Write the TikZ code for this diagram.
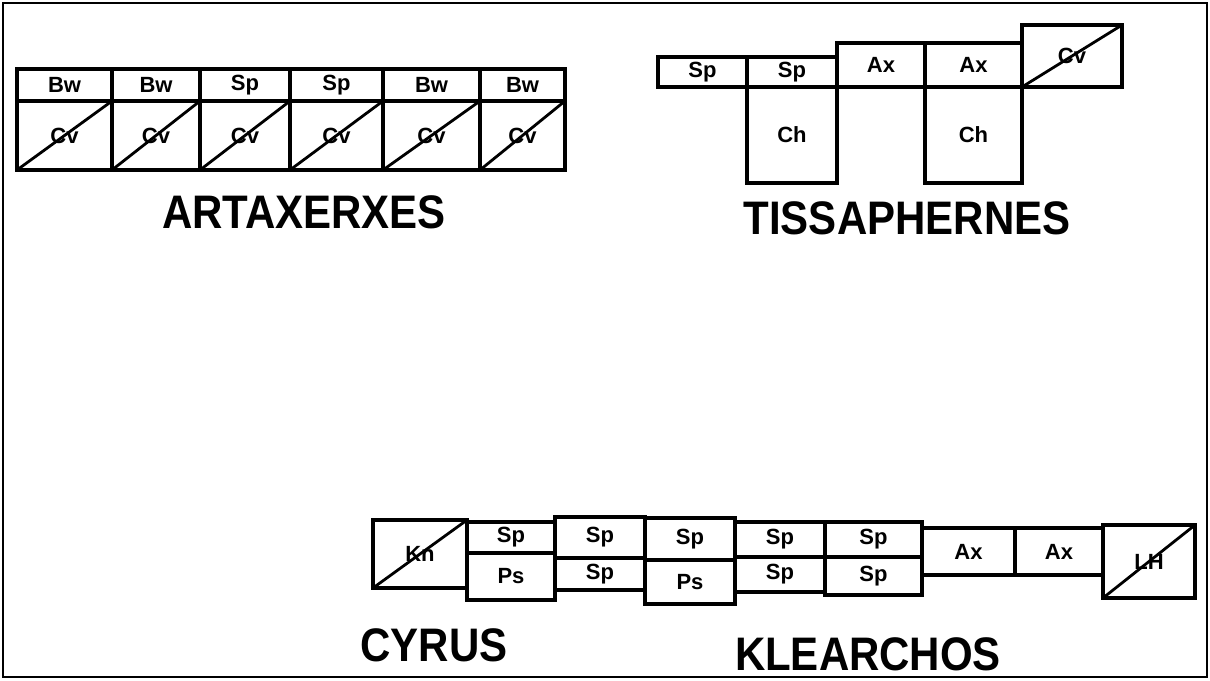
\documentclass[tikz,border=0pt]{standalone}
\usepackage{fontspec}
\usepackage{graphicx}
\setmainfont{Liberation Sans}
\tikzset{
  cell/.style={draw=black, line width=3.2pt, rectangle, inner sep=0pt, outer sep=0pt,
    anchor=north west, font=\fontsize{22}{22}\selectfont\bfseries, text=black},
  diag/.style={draw=black, line width=2.8pt},
  army/.style={font=\fontsize{42}{42}\selectfont\bfseries, text=black, inner sep=0pt},
  frame/.style={draw=black, line width=2.6pt}
}
\newcommand{\tallcaps}[1]{\scalebox{1}[1.12]{#1}}
\begin{document}
\begin{tikzpicture}[x=1pt,y=-1pt]
\useasboundingbox (0,0) rectangle (1210,680);
\fill[white] (0,0) rectangle (1210,680);
\coordinate (fnw) at (3,3);
\coordinate (fse) at (1207,677);
\draw[frame] (fnw) rectangle (fse);

% ---------------- ARTAXERXES ----------------
\node[cell, minimum width=95pt, minimum height=32pt] (a1h) at (17,69) {Bw};
\node[cell, minimum width=88pt, minimum height=32pt] (a2h) at (112,69) {Bw};
\node[cell, minimum width=90pt, minimum height=32pt] (a3h) at (200,69) {Sp};
\node[cell, minimum width=93pt, minimum height=32pt] (a4h) at (290,69) {Sp};
\node[cell, minimum width=97pt, minimum height=32pt] (a5h) at (383,69) {Bw};
\node[cell, minimum width=85pt, minimum height=32pt] (a6h) at (480,69) {Bw};
\node[cell, minimum width=95pt, minimum height=69pt] (a1c) at (17,101) {Cv};
\node[cell, minimum width=88pt, minimum height=69pt] (a2c) at (112,101) {Cv};
\node[cell, minimum width=90pt, minimum height=69pt] (a3c) at (200,101) {Cv};
\node[cell, minimum width=93pt, minimum height=69pt] (a4c) at (290,101) {Cv};
\node[cell, minimum width=97pt, minimum height=69pt] (a5c) at (383,101) {Cv};
\node[cell, minimum width=85pt, minimum height=69pt] (a6c) at (480,101) {Cv};
\foreach \c in {a1c,a2c,a3c,a4c,a5c,a6c}
  \draw[diag] (\c.south west) -- (\c.north east);
\node[army] (artax) at (304,212) {\tallcaps{ARTAXERXES}};

% ---------------- TISSAPHERNES ----------------
\node[cell, minimum width=89pt, minimum height=30pt] (t1) at (658,57) {Sp};
\node[cell, minimum width=90pt, minimum height=30pt] (t2) at (747,57) {Sp};
\node[cell, minimum width=90pt, minimum height=96pt] (t2c) at (747,87) {Ch};
\node[cell, minimum width=88pt, minimum height=44pt] (t3) at (837,43) {Ax};
\node[cell, minimum width=97pt, minimum height=44pt] (t4) at (925,43) {Ax};
\node[cell, minimum width=97pt, minimum height=96pt] (t4c) at (925,87) {Ch};
\node[cell, minimum width=100pt, minimum height=62pt] (t5) at (1022,25) {Cv};
\draw[diag] (t5.south west) -- (t5.north east);
\node[army] (tiss) at (907,218) {\tallcaps{TISSAPHERNES}};

% ---------------- CYRUS / KLEARCHOS ----------------
\node[cell, minimum width=94pt, minimum height=68pt] (k0) at (373,520) {Kn};
\draw[diag] (k0.south west) -- (k0.north east);
\node[cell, minimum width=88pt, minimum height=31pt] (c1a) at (467,522) {Sp};
\node[cell, minimum width=88pt, minimum height=47pt] (c1b) at (467,553) {Ps};
\node[cell, minimum width=90pt, minimum height=41pt] (c2a) at (555,517) {Sp};
\node[cell, minimum width=90pt, minimum height=32pt] (c2b) at (555,558) {Sp};
\node[cell, minimum width=90pt, minimum height=42pt] (c3a) at (645,518) {Sp};
\node[cell, minimum width=90pt, minimum height=44pt] (c3b) at (645,560) {Ps};
\node[cell, minimum width=90pt, minimum height=35pt] (c4a) at (735,522) {Sp};
\node[cell, minimum width=90pt, minimum height=35pt] (c4b) at (735,557) {Sp};
\node[cell, minimum width=97pt, minimum height=35pt] (c5a) at (825,522) {Sp};
\node[cell, minimum width=97pt, minimum height=38pt] (c5b) at (825,557) {Sp};
\node[cell, minimum width=93pt, minimum height=47pt] (c6) at (922,528) {Ax};
\node[cell, minimum width=88pt, minimum height=47pt] (c7) at (1015,528) {Ax};
\node[cell, minimum width=92pt, minimum height=73pt] (c8) at (1103,525) {LH};
\draw[diag] (c8.south west) -- (c8.north east);
\node[army] (cyrus) at (434,645) {\tallcaps{CYRUS}};
\node[army] (klear) at (868,654) {\tallcaps{KLEARCHOS}};
\end{tikzpicture}
\end{document}
